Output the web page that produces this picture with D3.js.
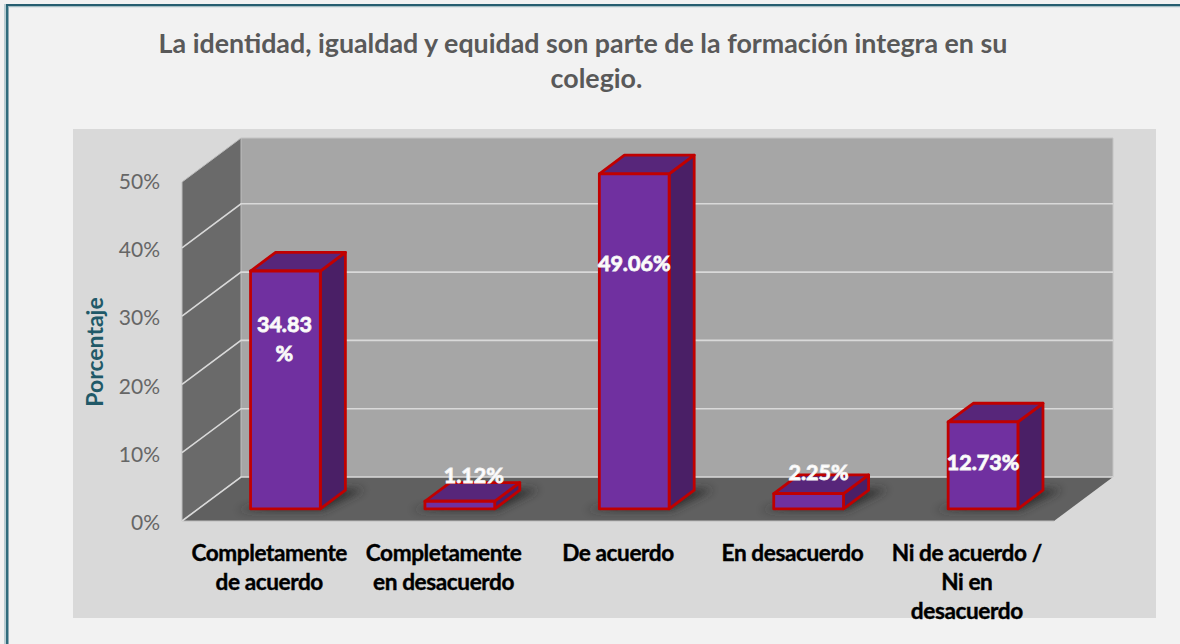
<!DOCTYPE html>
<html><head><meta charset="utf-8">
<script src="https://cdn.jsdelivr.net/npm/d3@7/dist/d3.min.js"></script>
<style>
html,body{margin:0;padding:0;background:#f2f2f2;overflow:hidden}
svg{display:block}
text{font-family:Lato,Carlito,"Open Sans",sans-serif}
</style></head><body><svg id="c" width="1180" height="644"></svg>
<script>
const chartTitle = ["La identidad, igualdad y equidad son parte de la formación integra en su","colegio."];
const yAxisTitle = "Porcentaje";
const categories = ["Completamente de acuerdo","Completamente en desacuerdo","De acuerdo","En desacuerdo","Ni de acuerdo / Ni en desacuerdo"];
const categoryLines = [["Completamente","de acuerdo"],["Completamente","en desacuerdo"],["De acuerdo"],["En desacuerdo"],["Ni de acuerdo /","Ni en","desacuerdo"]];
const values = [34.83,1.12,49.06,2.25,12.73];
const valueLabels = [["34.83","%"],["1.12%"],["49.06%"],["2.25%"],["12.73%"]];
const yTicks = [0,10,20,30,40,50];

const svg = d3.select("#c");
const W = 1180, H = 644;
const depthX = 59, depthY = 44;
const x = d3.scaleBand().domain(categories).range([182,1054]).paddingInner(0.6).paddingOuter(0.3);
const y = d3.scaleLinear().domain([0,50]).range([521,179.5]);
const wallTop = 49.63;
const P = (px,v,d)=>[px+d*depthX, y(v)-d*depthY];
const poly = pts => pts.map(p=>p.join(",")).join(" ");

const defs = svg.append("defs");
defs.append("filter").attr("id","blur").attr("x","-40%").attr("y","-100%").attr("width","180%").attr("height","300%")
  .append("feGaussianBlur").attr("stdDeviation",4);

// frame
svg.append("rect").attr("width",W).attr("height",H).attr("fill","#f2f2f2");
svg.append("rect").attr("x",4).attr("y",4).attr("width",2).attr("height",H-4).attr("fill","#b9cdd2");
svg.append("rect").attr("x",6).attr("y",4).attr("width",2.5).attr("height",H-4).attr("fill","#2f6b7c");
svg.append("rect").attr("x",6).attr("y",4).attr("width",W-6).attr("height",2.2).attr("fill","#265e70");
svg.append("rect").attr("x",8).attr("y",6.2).attr("width",W-8).attr("height",1).attr("fill","#9db8c0");

// title
const titleX = [583,596.5], titleY = [53,88];
svg.selectAll("text.t").data(chartTitle).join("text").attr("class","t")
  .attr("x",(d,i)=>titleX[i]).attr("y",(d,i)=>titleY[i]).attr("text-anchor","middle")
  .attr("font-size",26.8).attr("font-weight",700).attr("fill","#595959").text(d=>d);

// plot area panel
svg.append("rect").attr("x",73).attr("y",129).attr("width",1083).attr("height",489).attr("fill","#d9d9d9");

const L = x.range()[0], R = x.range()[1];
// walls
svg.append("polygon").attr("points",poly([P(L,0,1),P(R,0,1),P(R,wallTop,1),P(L,wallTop,1)])).attr("fill","#a6a6a6");
svg.append("polygon").attr("points",poly([P(L,0,0),P(L,0,1),P(L,wallTop,1),P(L,wallTop,0)])).attr("fill","#6a6a6a").attr("stroke","#bdbdbd").attr("stroke-width",1);
svg.append("polygon").attr("points",poly([P(L,0,0),P(L,0,1),P(R,0,1),P(R,0,0)])).attr("fill","#606060");
// wall outlines
svg.append("path").attr("d",`M${P(L,wallTop,1)}L${P(R,wallTop,1)}L${P(R,0,1)}`).attr("fill","none").attr("stroke","#c4c4c4").attr("stroke-width",1);
svg.append("path").attr("d",`M${P(L,0,0)}L${P(R,0,0)}`).attr("fill","none").attr("stroke","#bdbdbd").attr("stroke-width",1);

// grid
const grid = svg.append("g").attr("fill","none").attr("stroke","#d9d9d9").attr("stroke-width",1.6);
yTicks.filter(t=>t<50).forEach(t=>{
  grid.append("path").attr("d",`M${P(L,t,0)}L${P(L,t,1)}L${P(R,t,1)}`);
});

// axis
const axis = d3.axisLeft(y).tickValues(yTicks).tickFormat(d=>d+"%").tickSize(0).tickPadding(0);
const ag = svg.append("g").attr("transform","translate(160,2)").call(axis);
ag.select(".domain").remove();
ag.selectAll("text").attr("font-size",21).attr("fill","#666").style("font-family","Lato,Carlito,sans-serif");

// y title
svg.append("text").attr("transform","translate(103,352) rotate(-90)").attr("text-anchor","middle")
  .attr("font-size",23).attr("font-weight",700).attr("fill","#215968").text(yAxisTitle);

// bars
const dFront = 0.275, dBack = 0.70;
const bars = svg.selectAll("g.bar").data(values.map((v,i)=>({v,i,c:categories[i]}))).join("g").attr("class","bar");
bars.append("polygon").attr("filter","url(#blur)").attr("fill","#2a2a2a").attr("opacity",0.9)
  .attr("points",d=>{const a=x(d.c),b=a+x.bandwidth();
    return poly([P(a-12,0,dFront-.03),P(b+4,0,dFront-.03),P(b+18,0,dBack+.02),P(b-6,0,dBack+.02)]);});
const stroke = {stroke:"#c00000","stroke-width":2.8,"stroke-linejoin":"round"};
const styled = s => {Object.entries(stroke).forEach(([k,v])=>s.attr(k,v));return s;};
styled(bars.append("polygon").attr("fill","#4a1f66")
  .attr("points",d=>{const b=x(d.c)+x.bandwidth();return poly([P(b,0,dFront),P(b,0,dBack),P(b,d.v,dBack),P(b,d.v,dFront)]);}));
styled(bars.append("polygon").attr("fill","#57267a")
  .attr("points",d=>{const a=x(d.c),b=a+x.bandwidth();return poly([P(a,d.v,dFront),P(b,d.v,dFront),P(b,d.v,dBack),P(a,d.v,dBack)]);}));
styled(bars.append("polygon").attr("fill","#7030a0")
  .attr("points",d=>{const a=x(d.c),b=a+x.bandwidth();return poly([P(a,0,dFront),P(b,0,dFront),P(b,d.v,dFront),P(a,d.v,dFront)]);}));

// value labels: centred height above the front base, horizontal nudge
const labelLift = [170,33,245,36,46], labelNudge = [-1,14,0,10,0];
bars.each(function(d){
  const g = d3.select(this), base = P(x(d.c)+x.bandwidth()/2,0,dFront);
  const lines = valueLabels[d.i];
  lines.forEach((s,k)=>{
    g.append("text").attr("x",base[0]+labelNudge[d.i])
     .attr("y",base[1]-labelLift[d.i]+(k-(lines.length-1)/2)*29+7.5)
     .attr("text-anchor","middle").attr("font-size",21.5).attr("font-weight",700)
     .attr("fill","#fff").attr("stroke","#f4f4f4").attr("stroke-width",0.9).text(s);
  });
});

// category labels
svg.selectAll("g.cat").data(categories).join("g").attr("class","cat").each(function(c,i){
  categoryLines[i].forEach((s,k)=>{
    d3.select(this).append("text").attr("x",x(c)+x.bandwidth()/2).attr("y",561+k*29)
      .attr("text-anchor","middle").attr("font-size",22.6).attr("font-weight",700)
      .attr("letter-spacing","-0.4").attr("fill","#000").attr("stroke","#000").attr("stroke-width",0.4).text(s);
  });
});
</script></body></html>
